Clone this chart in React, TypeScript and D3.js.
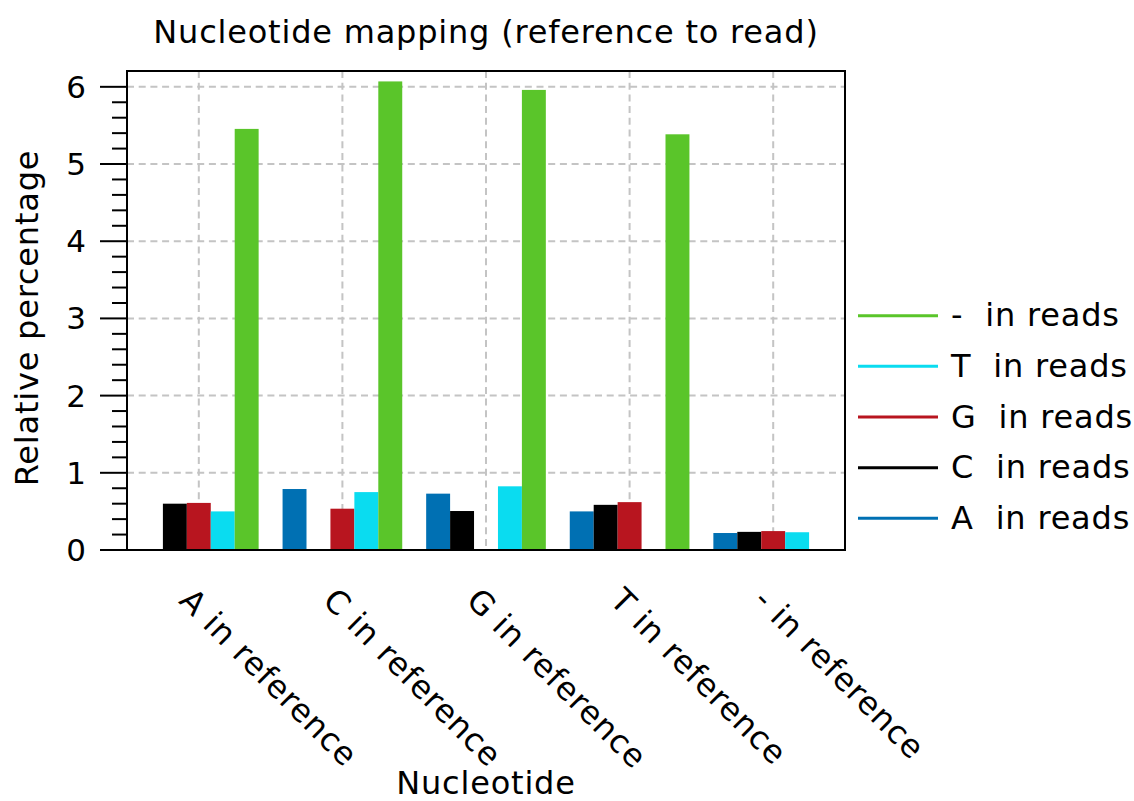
import React from "react";
import * as d3 from "d3";

const categories = ["A in reference", "C in reference", "G in reference", "T in reference", "- in reference"];
const seriesNames = ["A", "C", "G", "T", "-"];
const seriesColors = ["#0070b3", "#000000", "#b8151f", "#0adcf0", "#5ac52a"];
const valuesA = [0, 0.79, 0.73, 0.5, 0.22];
const valuesC = [0.6, 0, 0.505, 0.585, 0.235];
const valuesG = [0.61, 0.535, 0, 0.62, 0.245];
const valuesT = [0.5, 0.75, 0.825, 0, 0.23];
const valuesGap = [5.455, 6.07, 5.96, 5.385, 0];
const yMajorTicks = [0, 1, 2, 3, 4, 5, 6];
const legendOrder = ["-", "T", "G", "C", "A"];

const seriesValues = [valuesA, valuesC, valuesG, valuesT, valuesGap];

const W = 1134;
const H = 801;
const M = { left: 127, right: 845, top: 71, bottom: 550 };
const FONT = "'DejaVu Sans', sans-serif";
const FS = 32;
const LS = 0.8;

export default function App() {
  const x = d3.scaleBand<string>().domain(categories).range([M.left, M.right]).padding(0);
  const inner = d3
    .scaleBand<string>()
    .domain(seriesNames)
    .range([(x.bandwidth() * -5) / 12, (x.bandwidth() * 5) / 12])
    .padding(0);
  const y = d3.scaleLinear().domain([0, 6.205]).range([M.bottom, M.top]);
  const minorTicks = d3.range(1, 31).map((i) => i * 0.2).filter((v) => Math.abs(v - Math.round(v)) > 1e-6);

  const bars: JSX.Element[] = [];
  categories.forEach((cat, ci) => {
    const cx = (x(cat) as number) + x.bandwidth() / 2;
    seriesNames.forEach((s, si) => {
      const v = seriesValues[si][ci];
      if (v <= 0) return;
      bars.push(
        <rect
          key={`${ci}-${si}`}
          x={cx + (inner(s) as number)}
          y={y(v)}
          width={inner.bandwidth()}
          height={y(0) - y(v)}
          fill={seriesColors[si]}
        />
      );
    });
  });

  const gridStyle = { stroke: "#c4c4c4", strokeWidth: 2, strokeDasharray: "7 4.7" };

  return (
    <svg width={W} height={H} style={{ position: "absolute", left: 0, top: 0, background: "#fff" }} fontFamily={FONT}>
      <rect x={0} y={0} width={W} height={H} fill="#fff" />
      {/* grid */}
      {yMajorTicks.filter((t) => t > 0).map((t) => (
        <line key={`gy${t}`} x1={M.left} x2={M.right} y1={y(t)} y2={y(t)} {...gridStyle} />
      ))}
      {categories.map((c) => {
        const cx = (x(c) as number) + x.bandwidth() / 2;
        return <line key={`gx${c}`} x1={cx} x2={cx} y1={M.top} y2={M.bottom} {...gridStyle} />;
      })}
      {bars}
      {/* border */}
      <rect x={M.left} y={M.top} width={M.right - M.left} height={M.bottom - M.top} fill="none" stroke="#000" strokeWidth={2} />
      {/* y ticks */}
      {yMajorTicks.map((t) => (
        <g key={`yt${t}`}>
          <line x1={M.left - 27} x2={M.left} y1={y(t)} y2={y(t)} stroke="#000" strokeWidth={2} />
          <text x={86} y={y(t) + 11} textAnchor="end" fontSize={31}>
            {t}
          </text>
        </g>
      ))}
      {minorTicks.map((t) => (
        <line key={`ym${t}`} x1={M.left - 15} x2={M.left} y1={y(t)} y2={y(t)} stroke="#000" strokeWidth={2} />
      ))}
      {/* x tick labels */}
      {categories.map((c) => {
        const cx = (x(c) as number) + x.bandwidth() / 2;
        const tx = cx - 21;
        const ty = 602;
        return (
          <text key={`xl${c}`} x={tx} y={ty} fontSize={FS} letterSpacing={LS} transform={`rotate(45 ${tx} ${ty})`} style={{ whiteSpace: "pre" }}>
            {c}
          </text>
        );
      })}
      {/* title & axis labels */}
      <text x={(M.left + M.right) / 2} y={43} textAnchor="middle" fontSize={FS} letterSpacing={LS}>
        Nucleotide mapping (reference to read)
      </text>
      <text x={(M.left + M.right) / 2} y={794} textAnchor="middle" fontSize={FS} letterSpacing={LS}>
        Nucleotide
      </text>
      <text x={38} y={318} textAnchor="middle" fontSize={FS} letterSpacing={LS} transform="rotate(-90 38 318)">
        Relative percentage
      </text>
      {/* legend */}
      {legendOrder.map((s, i) => {
        const si = seriesNames.indexOf(s);
        const ly = 315.7 + i * 50.65;
        return (
          <g key={`lg${s}`}>
            <line x1={858} x2={938} y1={ly} y2={ly} stroke={seriesColors[si]} strokeWidth={3} />
            <text x={951} y={ly + 10.5} fontSize={FS} letterSpacing={LS} style={{ whiteSpace: "pre" }}>
              {`${s}  in reads`}
            </text>
          </g>
        );
      })}
    </svg>
  );
}
